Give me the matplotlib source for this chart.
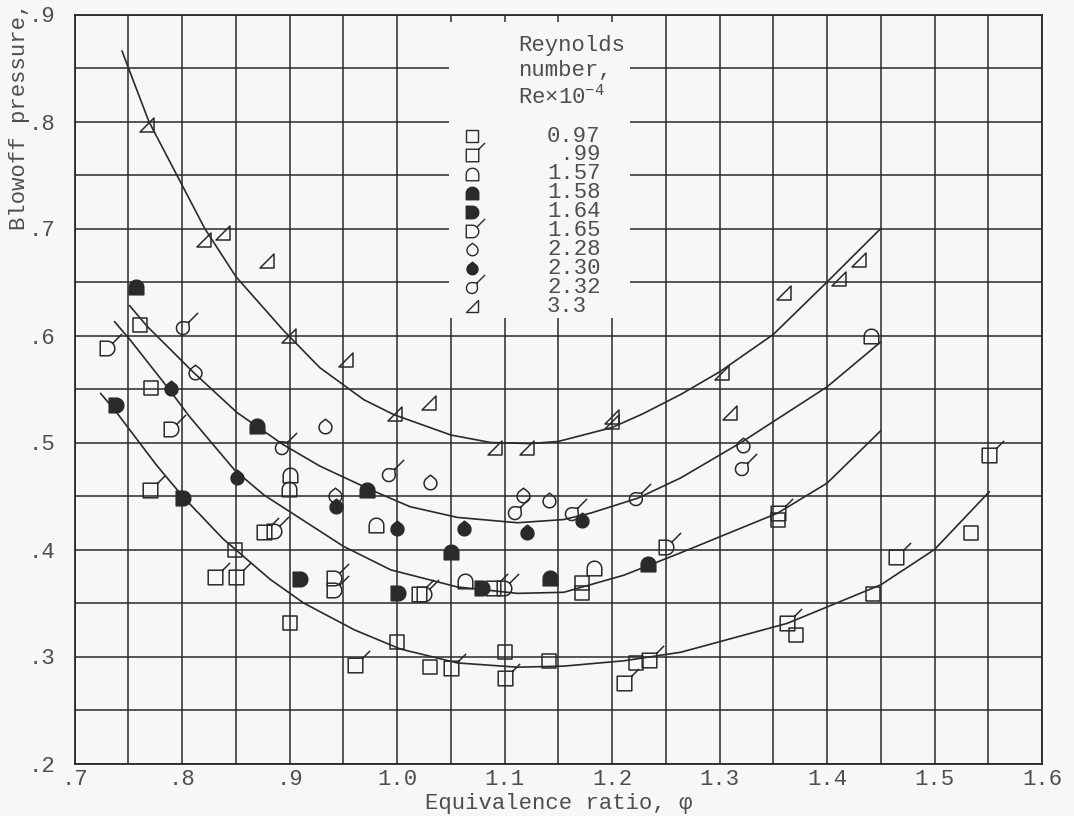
import numpy as np
import matplotlib
matplotlib.use("Agg")
import matplotlib.pyplot as plt
from matplotlib.path import Path
from matplotlib.patches import Rectangle
from matplotlib.ticker import MultipleLocator

# ---------------- data ----------------
re_labels = ["0.97", " .99", "1.57", "1.58", "1.64", "1.65", "2.28", "2.30", "2.32", "3.3"]

x_097 = [0.761, 0.771, 0.849, 0.900, 1.000, 1.031, 1.100, 1.141, 1.172, 1.172, 1.222, 1.354, 1.371, 1.443, 1.534]
y_097 = [0.610, 0.551, 0.400, 0.331, 0.314, 0.290, 0.304, 0.296, 0.369, 0.359, 0.294, 0.428, 0.320, 0.358, 0.415]

x_099 = [0.770, 0.831, 0.850, 0.876, 0.961, 1.020, 1.050, 1.089, 1.100, 1.211, 1.234, 1.354, 1.363, 1.464, 1.551]
y_099 = [0.456, 0.374, 0.374, 0.416, 0.292, 0.358, 0.289, 0.364, 0.280, 0.275, 0.297, 0.434, 0.331, 0.393, 0.488]

x_157 = [0.900, 0.899, 0.980, 1.063, 1.183, 1.441]
y_157 = [0.470, 0.457, 0.423, 0.371, 0.383, 0.600]

x_158 = [0.757, 0.870, 0.972, 1.050, 1.142, 1.233]
y_158 = [0.645, 0.515, 0.456, 0.398, 0.373, 0.386]

x_164 = [0.738, 0.801, 0.910, 1.001, 1.079]
y_164 = [0.535, 0.448, 0.372, 0.359, 0.364]

x_165 = [0.730, 0.790, 0.885, 0.941, 0.941, 1.025, 1.099, 1.250]
y_165 = [0.588, 0.513, 0.417, 0.373, 0.362, 0.358, 0.364, 0.402]

x_228 = [0.812, 0.933, 0.942, 1.031, 1.117, 1.141, 1.322]
y_228 = [0.566, 0.515, 0.451, 0.463, 0.451, 0.446, 0.498]

x_230 = [0.790, 0.851, 0.943, 1.000, 1.062, 1.121, 1.172]
y_230 = [0.551, 0.468, 0.441, 0.420, 0.420, 0.416, 0.428]

x_232 = [0.801, 0.893, 0.992, 1.110, 1.163, 1.222, 1.321]
y_232 = [0.608, 0.496, 0.471, 0.435, 0.434, 0.448, 0.476]

x_33 = [0.767, 0.820, 0.838, 0.879, 0.899, 0.952, 0.998, 1.030, 1.091, 1.121, 1.200, 1.200, 1.302, 1.310, 1.360, 1.411, 1.430]
y_33 = [0.797, 0.689, 0.696, 0.670, 0.600, 0.577, 0.527, 0.537, 0.495, 0.495, 0.524, 0.519, 0.565, 0.528, 0.640, 0.653, 0.671]

# faired curves
curve_tri_x = [0.744, 0.750, 0.769, 0.795, 0.821, 0.850, 0.894, 0.928, 0.969, 0.997, 1.050, 1.087, 1.124, 1.150, 1.200, 1.229, 1.264, 1.300, 1.350, 1.400, 1.450]
curve_tri_y = [0.866, 0.850, 0.800, 0.750, 0.700, 0.655, 0.605, 0.570, 0.540, 0.526, 0.507, 0.500, 0.499, 0.501, 0.514, 0.527, 0.545, 0.566, 0.601, 0.650, 0.700]

curve_drop_x = [0.751, 0.767, 0.810, 0.851, 0.894, 0.928, 0.975, 1.012, 1.056, 1.112, 1.155, 1.180, 1.224, 1.264, 1.320, 1.400, 1.450]
curve_drop_y = [0.628, 0.609, 0.566, 0.528, 0.498, 0.478, 0.456, 0.440, 0.430, 0.425, 0.428, 0.434, 0.448, 0.467, 0.500, 0.552, 0.594]

curve_d_x = [0.737, 0.7515, 0.786, 0.807, 0.849, 0.876, 0.950, 0.994, 1.056, 1.112, 1.155, 1.211, 1.264, 1.354, 1.400, 1.450]
curve_d_y = [0.613, 0.596, 0.552, 0.524, 0.474, 0.451, 0.403, 0.381, 0.365, 0.359, 0.360, 0.376, 0.397, 0.434, 0.462, 0.511]

curve_sq_x = [0.724, 0.7375, 0.776, 0.801, 0.838, 0.882, 0.913, 0.960, 1.003, 1.056, 1.112, 1.155, 1.211, 1.264, 1.363, 1.450, 1.500, 1.551]
curve_sq_y = [0.546, 0.530, 0.479, 0.449, 0.410, 0.372, 0.350, 0.325, 0.307, 0.294, 0.290, 0.291, 0.296, 0.304, 0.331, 0.367, 0.400, 0.454]

x_ticks = [0.7, 0.8, 0.9, 1.0, 1.1, 1.2, 1.3, 1.4, 1.5, 1.6]
x_ticklabels = [".7", ".8", ".9", "1.0", "1.1", "1.2", "1.3", "1.4", "1.5", "1.6"]
y_ticks = [0.2, 0.3, 0.4, 0.5, 0.6, 0.7, 0.8, 0.9]
y_ticklabels = [".2", ".3", ".4", ".5", ".6", ".7", ".8", ".9"]

# ---------------- style ----------------
INK = "#2a2a2a"
TXT = "#4e4e4e"
BG = "#f7f7f7"
FONT = ["Liberation Mono", "DejaVu Sans Mono", "DejaVu Sans"]
FS = 16

plt.rcParams["font.family"] = FONT
plt.rcParams["mathtext.fontset"] = "custom"
plt.rcParams["mathtext.rm"] = "Liberation Mono"

M, L, C = Path.MOVETO, Path.LINETO, Path.CLOSEPOLY


def _poly(pts):
    return list(pts), [M] + [L] * (len(pts) - 2) + [C]


def _add_flag(verts, codes, start):
    verts = verts + [start, (2.0, 2.0)]
    codes = codes + [M, L]
    return verts, codes


def square(flag=False):
    v, c = _poly([(-1, -1), (1, -1), (1, 1), (-1, 1), (-1, -1)])
    if flag:
        v, c = _add_flag(v, c, (1, 1))
    return Path(v, c)


def arch():
    t = np.linspace(0, np.pi, 30)
    pts = [(-1, -1), (1, -1)] + list(zip(np.cos(t), np.sin(t))) + [(-1, -1)]
    v, c = _poly(pts)
    return Path(v, c)


def dshape(flag=False):
    t = np.linspace(0, np.pi, 30)
    pts = [(-1, 1), (-1, -1)] + list(zip(np.sin(t), -np.cos(t))) + [(-1, 1)]
    v, c = _poly(pts)
    if flag:
        v, c = _add_flag(v, c, (0.707, 0.707))
    return Path(v, c)


def drop(flag=False):
    cy, r = -0.12, 0.88
    d = 1.0 - cy
    th = np.degrees(np.arccos(r / d))
    a0 = 90 - th
    ang = np.radians(np.linspace(a0, a0 - (360 - 2 * th), 40))
    pts = [(0, 1)] + list(zip(r * np.cos(ang), cy + r * np.sin(ang))) + [(0, 1)]
    pts = np.array(pts)
    if flag:
        c45 = np.cos(np.pi / 4)
        rot = np.array([[c45, c45], [-c45, c45]])
        pts = pts @ rot.T
    v, c = _poly([tuple(p) for p in pts])
    if flag:
        v, c = _add_flag(v, c, tuple(pts[0]))
    return Path(v, c)


def rtri():
    v, c = _poly([(-1, -1), (1, -1), (1, 1), (-1, -1)])
    return Path(v, c)


def ext(p):
    return np.max(np.abs(p.vertices))


series = [
    (x_097, y_097, square(False), False),
    (x_099, y_099, square(True), False),
    (x_157, y_157, arch(), False),
    (x_158, y_158, arch(), True),
    (x_164, y_164, dshape(False), True),
    (x_165, y_165, dshape(True), False),
    (x_228, y_228, drop(False), False),
    (x_230, y_230, drop(False), True),
    (x_232, y_232, drop(True), False),
    (x_33, y_33, rtri(), False),
]

# ---------------- figure ----------------
fig = plt.figure(figsize=(10.74, 8.16), dpi=100, facecolor=BG)
ax = fig.add_axes([74.7 / 1074, 1 - 763.5 / 816, (1042 - 74.7) / 1074, (763.5 - 14.5) / 816])
ax.set_facecolor(BG)
ax.set_xlim(0.7, 1.6)
ax.set_ylim(0.2, 0.9)

ax.set_xticks(x_ticks)
ax.set_xticklabels(x_ticklabels)
ax.set_yticks(y_ticks)
ax.set_yticklabels(y_ticklabels)
ax.xaxis.set_minor_locator(MultipleLocator(0.05))
ax.yaxis.set_minor_locator(MultipleLocator(0.05))
ax.tick_params(which="both", length=0, labelsize=FS, labelcolor=TXT)
ax.tick_params(axis="x", pad=4)
ax.tick_params(axis="y", pad=14)
ax.set_axisbelow(True)
ax.grid(which="both", color=INK, lw=1.1)
for s in ax.spines.values():
    s.set_color(INK)
    s.set_linewidth(1.3)

# blank patch behind the key (grid interrupted there)
ax.add_patch(Rectangle((1.048, 0.6165), 1.217 - 1.048, 0.893 - 0.6165,
                       facecolor=BG, edgecolor="none", zorder=1.5))

# curves
for cx, cy in [(curve_tri_x, curve_tri_y), (curve_drop_x, curve_drop_y),
               (curve_d_x, curve_d_y), (curve_sq_x, curve_sq_y)]:
    ax.plot(cx, cy, color=INK, lw=1.2, zorder=2, solid_capstyle="round",
            solid_joinstyle="round")

# data points
BASE = 10.5
for xs, ys, p, filled in series:
    ax.plot(xs, ys, linestyle="none", marker=p, ms=BASE * ext(p),
            mec=INK, mew=1.1, mfc=(INK if filled else "none"), zorder=3)

# key
def ax_x(px):
    return (px - 74.7) / (1042 - 74.7)


def ax_y(py):
    return (763.5 - py) / (763.5 - 14.5)


hdr = ["Reynolds", "number,", "Re×10$^{\\mathregular{-4}}$"]
hdr_py = [45, 70, 97]
for t, py in zip(hdr, hdr_py):
    ax.text(ax_x(518), ax_y(py), t, transform=ax.transAxes, fontsize=FS,
            color=TXT, ha="left", va="center", zorder=4)

KEY = 9
for i, ((xs, ys, p, filled), lab) in enumerate(zip(series, re_labels)):
    py = 136 + 18.9 * i
    ax.plot([ax_x(472)], [ax_y(py)], transform=ax.transAxes, linestyle="none",
            marker=p, ms=KEY * ext(p), mec=INK, mew=1.0,
            mfc=(INK if filled else "none"), zorder=4, clip_on=False)
    ax.text(ax_x(547), ax_y(py), lab, transform=ax.transAxes, fontsize=FS,
            color=TXT, ha="left", va="center", zorder=4)

fig.text(0.5 * (74.7 + 1042) / 1074, 1 - 803 / 816, "Equivalence ratio, φ",
         fontsize=FS, color=TXT, ha="center", va="center")
fig.text(20 / 1074, 1 - 230 / 816, "Blowoff pressure,", rotation=90,
         fontsize=FS, color=TXT, ha="center", va="bottom")

fig.savefig("out.png", dpi=100, facecolor=BG)
